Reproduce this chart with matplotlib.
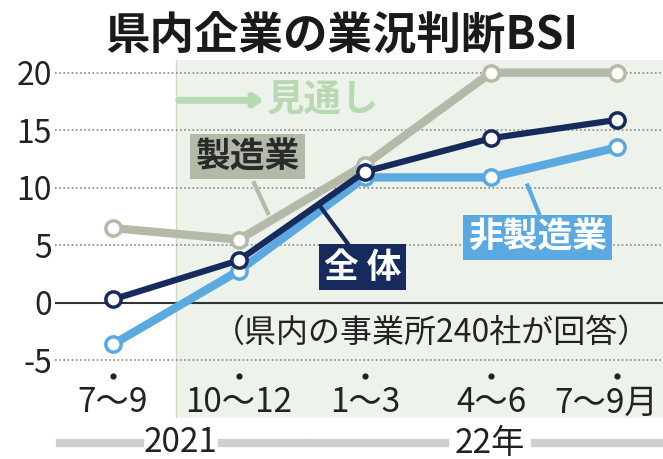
import matplotlib.pyplot as plt
import matplotlib.transforms as mtransforms

plt.rcParams['font.family'] = ['Noto Sans CJK JP', 'DejaVu Sans']

# data
periods = ['7～9', '10～12', '1～3', '4～6', '7～9月']
manufacturing = [6.5, 5.5, 12.0, 20.0, 20.0]
non_manufacturing = [-3.6, 2.8, 10.9, 10.9, 13.5]
overall = [0.3, 3.7, 11.4, 14.3, 15.9]
y_ticks = [-5, 0, 5, 10, 15, 20]
years = ['2021', '22年']

# colours
c_mfg = '#b3baa7'
c_non = '#5ba9e1'
c_all = '#162a5c'
c_shade = '#edf3ea'
c_fore = '#b9d9b3'

fig = plt.figure(figsize=(6.63, 4.59), dpi=100)
ax = fig.add_axes([55 / 663, 1 - 418 / 459, (663 - 55) / 663, (418 - 60) / 459])
ax.set_xlim(-0.46, 4.365)
ax.set_ylim(-10.0, 21.1)
for s in ax.spines.values():
    s.set_visible(False)

x = list(range(len(periods)))

# forecast shading
ax.axvspan(0.5, 4.4, color=c_shade, zorder=0, lw=0)
ax.axvline(0.5, color='#c9dec2', lw=1, zorder=0.5)

# grid
for t in y_ticks:
    if t == 0:
        ax.axhline(t, color='#333333', lw=1.5, zorder=1)
    else:
        ax.axhline(t, color='#888888', lw=1.2, ls=(0, (1, 1.5)), zorder=1)

ax.set_yticks(y_ticks)
ax.set_yticklabels([str(t) for t in y_ticks], fontsize=23, color='#222222')
ax.tick_params(axis='y', length=0, pad=2)
ax.set_xticks([])

# series
mk = dict(marker='o', markersize=11, markerfacecolor='white', markeredgewidth=2.5)
ax.plot(x, manufacturing, color=c_mfg, lw=6, markeredgecolor=c_mfg, zorder=3, **mk)
ax.plot(x, non_manufacturing, color=c_non, lw=6, markeredgecolor=c_non, zorder=4, **mk)
ax.plot(x, overall, color=c_all, lw=4.5, markeredgecolor=c_all, zorder=5, **mk)

# category labels with dots
trans = mtransforms.blended_transform_factory(ax.transData, ax.transAxes)
ax.scatter(x, [(418 - 376) / 358] * len(x), s=12, color='#222222', transform=trans, zorder=6)
ly = (418 - 403) / 358
for xi, lab in zip(x[:-1], periods[:-1]):
    ax.text(xi, ly, lab, transform=trans, ha='center', va='center',
            fontsize=24, color='#222222')
ax.text(0.992, ly, periods[-1], transform=ax.transAxes, ha='right', va='center',
        fontsize=24, color='#222222')

# series labels
box = dict(boxstyle='square,pad=0.15', lw=0)
ax.plot([1.12, 1.23], [10.4, 7.8], color=c_mfg, lw=3, zorder=2)
ax.text(1.07, 12.7, '製造業', ha='center', va='center', fontsize=25,
        fontweight='bold', color='#2a2a2a', bbox=dict(box, fc=c_mfg), zorder=7)
ax.plot([1.65, 1.86], [8.3, 5.2], color=c_all, lw=3, zorder=6)
ax.text(1.98, 3.1, '全 体', ha='center', va='center', fontsize=25,
        fontweight='bold', color='white', bbox=dict(box, fc=c_all), zorder=7)
ax.plot([3.29, 3.38], [10.2, 7.8], color=c_non, lw=3, zorder=6)
ax.text(3.37, 5.7, '非製造業', ha='center', va='center', fontsize=25,
        fontweight='bold', color='white', bbox=dict(box, fc=c_non), zorder=7)

# forecast marker
ax.annotate('', xy=(1.22, 17.6), xytext=(0.5, 17.6),
            arrowprops=dict(arrowstyle='-|>,head_length=0.5,head_width=0.35',
                            color=c_fore, lw=5), zorder=2)
ax.text(1.22, 17.6, '見通し', ha='left', va='center', fontsize=27,
        fontweight='bold', color=c_fore, zorder=2)

ax.text(2.53, -2.6, '（県内の事業所240社が回答）', ha='center', va='center',
        fontsize=23, color='#222222', zorder=7)

# title
fig.text(342 / 663, 1 - 37 / 459, '県内企業の業況判断BSI', ha='center', va='center',
         fontsize=32, fontweight='bold', color='#1a1a1a')

# year bands
yb = 1 - 443 / 459
for x0, x1 in [(60, 140), (222, 303), (310, 445), (535, 663)]:
    fig.add_artist(plt.Line2D([x0 / 663, x1 / 663], [yb, yb], color='#cfcfcf', lw=6))
for xc, lab in zip([181, 490], years):
    fig.text(xc / 663, yb, lab, ha='center', va='center', fontsize=24, color='#222222')

fig.savefig('out.png', dpi=100)
